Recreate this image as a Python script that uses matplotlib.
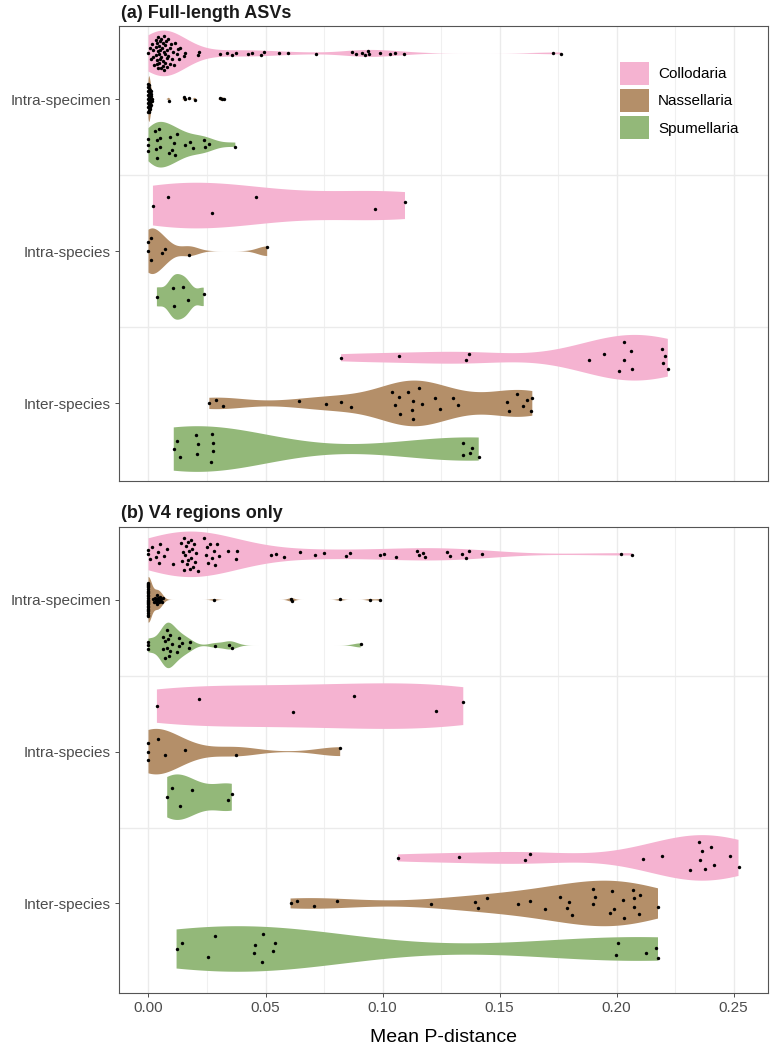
import numpy as np
import matplotlib
matplotlib.use('Agg')
import matplotlib.pyplot as plt
from matplotlib.patches import Patch

plt.rcParams['font.family'] = ['Liberation Sans', 'DejaVu Sans']

groups = ['Collodaria', 'Nassellaria', 'Spumellaria']
comparisons = ['Intra-specimen', 'Intra-species', 'Inter-species']
panel_titles = ['(a) Full-length ASVs', '(b) V4 regions only']
x_ticks = [0.00, 0.05, 0.10, 0.15, 0.20, 0.25]
x_tick_labels = ['0.00', '0.05', '0.10', '0.15', '0.20', '0.25']
x_label = 'Mean P-distance'

# ---------------- panel (a): full-length ASVs ----------------
a_specimen_col = [0.000, 0.0005, 0.001, 0.0015, 0.002, 0.002, 0.0025, 0.003, 0.003, 0.0032,
                  0.0035, 0.0035, 0.0038, 0.004, 0.004, 0.0042, 0.0045, 0.0045, 0.0047, 0.005,
                  0.005, 0.005, 0.0052, 0.0055, 0.0055, 0.0058, 0.006, 0.006, 0.0062, 0.0065,
                  0.0065, 0.0068, 0.007, 0.007, 0.0072, 0.0075, 0.0078, 0.008, 0.008, 0.0083,
                  0.0085, 0.009, 0.009, 0.0095, 0.010, 0.0105, 0.011, 0.0115, 0.012, 0.0125,
                  0.013, 0.0135, 0.015, 0.0155, 0.021, 0.0215, 0.0307, 0.0336, 0.0357, 0.0374,
                  0.0426, 0.0443, 0.0479, 0.0493, 0.0557, 0.0597, 0.0717, 0.0871, 0.0886, 0.0914,
                  0.0924, 0.0936, 0.0943, 0.099, 0.1031, 0.1054, 0.109, 0.1729, 0.1764]
a_specimen_nas = [0.0, 0.0, 0.0, 0.0, 0.0, 0.0, 0.0, 0.0, 0.0002, 0.0002,
                  0.0002, 0.0002, 0.0004, 0.0004, 0.0004, 0.0004, 0.0006, 0.0006, 0.0006, 0.0006,
                  0.0008, 0.0008, 0.0008, 0.001, 0.001, 0.001, 0.0012, 0.0012, 0.0014, 0.0014,
                  0.0086, 0.0153, 0.0157, 0.0174, 0.0197, 0.0307, 0.0314, 0.0321]
a_specimen_spu = [0.0, 0.0, 0.0, 0.0029, 0.003, 0.0036, 0.0036, 0.0043, 0.005, 0.005,
                  0.0086, 0.009, 0.010, 0.0107, 0.0114, 0.0121, 0.0157, 0.0176, 0.0189, 0.0236,
                  0.024, 0.0257, 0.0371]

a_species_col = [0.0019, 0.0083, 0.027, 0.046, 0.0969, 0.1096]
a_species_nas = [0.0, 0.0, 0.001, 0.001, 0.0057, 0.0071, 0.0174, 0.0507]
a_species_spu = [0.0036, 0.0103, 0.0111, 0.0147, 0.0167, 0.0236]

a_inter_col = [0.0823, 0.1071, 0.1356, 0.1368, 0.1884, 0.1947, 0.2010, 0.2031, 0.2032, 0.2060,
               0.2064, 0.2193, 0.2198, 0.2207, 0.2219]
a_inter_nas = [0.026, 0.0288, 0.0318, 0.0642, 0.0757, 0.0823, 0.0864, 0.1042, 0.1055, 0.1071,
               0.1076, 0.1108, 0.1124, 0.1132, 0.1132, 0.1157, 0.1169, 0.1223, 0.1247, 0.1301,
               0.1321, 0.1532, 0.1541, 0.1574, 0.16, 0.1617, 0.1636, 0.164]
a_inter_spu = [0.0108, 0.012, 0.0136, 0.0204, 0.0206, 0.0213, 0.0268, 0.0272, 0.0274, 0.0276,
               0.1343, 0.1345, 0.1375, 0.1383, 0.1411]

# ---------------- panel (b): V4 regions only ----------------
b_specimen_col = [0.0, 0.0, 0.0005, 0.0014, 0.003, 0.004, 0.0045, 0.005, 0.0067, 0.0077,
                  0.0105, 0.0140, 0.0144, 0.0148, 0.015, 0.0153, 0.0157, 0.016, 0.0163, 0.0167,
                  0.017, 0.0173, 0.0177, 0.018, 0.0183, 0.0187, 0.019, 0.0195, 0.02, 0.0205,
                  0.021, 0.0238, 0.0244, 0.025, 0.0256, 0.0262, 0.027, 0.0278, 0.0285, 0.0292,
                  0.030, 0.034, 0.0373, 0.0377, 0.0524, 0.0546, 0.0581, 0.0646, 0.0711, 0.075,
                  0.0843, 0.0861, 0.099, 0.1007, 0.1057, 0.1147, 0.1157, 0.1174, 0.1183, 0.1276,
                  0.129, 0.1339, 0.1357, 0.1371, 0.1423, 0.2017, 0.2066]
b_specimen_nas = [0.0, 0.0, 0.0, 0.0, 0.0, 0.0, 0.0, 0.0, 0.0, 0.0,
                  0.0, 0.0, 0.0, 0.0, 0.0, 0.0, 0.0, 0.0, 0.0, 0.0,
                  0.0, 0.0, 0.0, 0.0, 0.0, 0.002, 0.0023, 0.0026, 0.003, 0.0032,
                  0.0035, 0.0037, 0.004, 0.0042, 0.0045, 0.0048, 0.005, 0.0053, 0.0056, 0.006,
                  0.0281, 0.061, 0.0612, 0.0819, 0.0946, 0.099]
b_specimen_spu = [0.0, 0.0, 0.0, 0.006, 0.0064, 0.007, 0.0071, 0.0079, 0.0081, 0.0083,
                  0.0086, 0.009, 0.0093, 0.01, 0.0121, 0.0129, 0.0131, 0.0143, 0.0171, 0.0176,
                  0.0286, 0.0343, 0.0357, 0.0907]

b_species_col = [0.0036, 0.0214, 0.0617, 0.0879, 0.123, 0.1345]
b_species_nas = [0.0, 0.0, 0.0, 0.004, 0.0071, 0.0157, 0.0374, 0.0819]
b_species_spu = [0.008, 0.01, 0.0133, 0.0186, 0.034, 0.0356]

b_inter_col = [0.1066, 0.1326, 0.1609, 0.1629, 0.2113, 0.2196, 0.2315, 0.2352, 0.2355, 0.2366,
               0.2378, 0.2404, 0.2415, 0.2486, 0.2521]
b_inter_nas = [0.0607, 0.0635, 0.0707, 0.0804, 0.1206, 0.1396, 0.1406, 0.1448, 0.1577, 0.1631,
               0.1694, 0.1759, 0.1789, 0.1795, 0.1811, 0.1898, 0.19, 0.1907, 0.1971, 0.198,
               0.1991, 0.2029, 0.2031, 0.2071, 0.2074, 0.2076, 0.2094, 0.2102, 0.2177]
b_inter_spu = [0.012, 0.0145, 0.0255, 0.0283, 0.0452, 0.0455, 0.0485, 0.049, 0.0534, 0.0541,
               0.1999, 0.2006, 0.2125, 0.2168, 0.2177]

panel_a = [[a_specimen_col, a_specimen_nas, a_specimen_spu],
           [a_species_col, a_species_nas, a_species_spu],
           [a_inter_col, a_inter_nas, a_inter_spu]]
panel_b = [[b_specimen_col, b_specimen_nas, b_specimen_spu],
           [b_species_col, b_species_nas, b_species_spu],
           [b_inter_col, b_inter_nas, b_inter_spu]]

colors = ['#F5B3D1', '#B48F69', '#93B879']


def bw_nrd0(x):
    x = np.asarray(x, float)
    n = len(x)
    hi = np.std(x, ddof=1)
    q75, q25 = np.percentile(x, [75, 25])
    lo = min(hi, (q75 - q25) / 1.34)
    if lo <= 0:
        lo = hi if hi > 0 else 1.0
    return 0.9 * lo * n ** (-0.2)


def kde(x, at, bw):
    return np.exp(-0.5 * ((np.asarray(at)[:, None] - x[None, :]) / bw) ** 2).sum(axis=1)


def draw_violin(ax, vals, pos, color, width=0.3):
    x = np.asarray(vals, float)
    bw = bw_nrd0(x)
    grid = np.linspace(x.min(), x.max(), 512)
    dens = kde(x, grid, bw)
    dens = dens / dens.max()
    half = dens * width / 2
    ax.fill_between(grid, pos - half, pos + half, facecolor=color, edgecolor='none',
                    lw=0, zorder=2)


def van_der_corput(n, base=2):
    out = []
    for i in range(1, n + 1):
        v, denom, k = 0.0, 1.0, i
        while k:
            k, r = divmod(k, base)
            denom *= base
            v += r / denom
        out.append(v)
    return np.array(out)


def quasirandom_offsets(vals, width=0.12, adjust=0.5):
    # deterministic beeswarm-like spread (ggbeeswarm::geom_quasirandom)
    x = np.asarray(vals, float)
    n = len(x)
    bw = bw_nrd0(x) * adjust
    grid = np.linspace(x.min() - 3 * bw, x.max() + 3 * bw, 512)
    dens = kde(x, grid, bw)
    dens = dens / dens.max()
    d_at = np.interp(x, grid, dens)
    ranks = np.argsort(np.argsort(x, kind='stable'), kind='stable')
    vdc = van_der_corput(n)[ranks]
    return (vdc - 0.5) * 2 * width * d_at


W, H = 770, 1049
fig = plt.figure(figsize=(W / 100, H / 100), dpi=100)
left, right = 119, 768
boxes = [(26, 481), (527, 993)]
ylims = [(2.51, -0.48), (2.59, -0.48)]

axes = []
for p, (top, bot) in enumerate(boxes):
    ax = fig.add_axes([left / W, 1 - bot / H, (right - left) / W, (bot - top) / H])
    axes.append(ax)
    data = [panel_a, panel_b][p]
    for ci in range(3):
        for gi in range(3):
            vals = data[ci][gi]
            pos = ci + (gi - 1) * 0.3
            draw_violin(ax, vals, pos, colors[gi])
            off = quasirandom_offsets(vals)
            ax.scatter(vals, pos + off, s=6, c='black', linewidths=0, zorder=3)
    ax.set_xlim(-0.0126, 0.2647)
    ax.set_ylim(*ylims[p])
    ax.set_xticks(x_ticks)
    ax.set_xticks([0.025, 0.075, 0.125, 0.175, 0.225], minor=True)
    ax.grid(which='major', axis='x', color='#EBEBEB', lw=1.0, zorder=0)
    ax.grid(which='minor', axis='x', color='#F0F0F0', lw=0.8, zorder=0)
    for yb in (0.5, 1.5):
        ax.axhline(yb, color='#EBEBEB', lw=1.0, zorder=1)
    ax.set_axisbelow(True)
    ax.set_yticks([0, 1, 2])
    ax.set_yticklabels(comparisons)
    ax.tick_params(axis='y', length=2.75, width=0.6, color='#333333', labelcolor='#4D4D4D',
                   labelsize=11, pad=3)
    ax.tick_params(axis='x', which='minor', length=0)
    for s in ax.spines.values():
        s.set_color('#555555')
        s.set_linewidth(0.8)
    fig.text(121 / W, 1 - (top - 13) / H, panel_titles[p], fontsize=13, fontweight='bold',
             ha='left', va='center', color='#1A1A1A')

axes[0].tick_params(axis='x', which='major', length=0, labelbottom=False)
axes[1].set_xticklabels(x_tick_labels)
axes[1].tick_params(axis='x', which='major', length=2.75, width=0.6, color='#333333',
                    labelcolor='#4D4D4D', labelsize=11, pad=3)
axes[1].set_xlabel(x_label, fontsize=14, labelpad=10)

handles = [Patch(facecolor=c, edgecolor='none') for c in colors]
axes[0].legend(handles, groups, loc='upper left', bbox_to_anchor=(620 / W, 1 - 62 / H),
               bbox_transform=fig.transFigure, frameon=False, fontsize=11,
               handlelength=1.9, handleheight=1.9, handletextpad=0.6, labelspacing=0.3,
               borderpad=0, borderaxespad=0)

fig.savefig('out.png', dpi=100)
